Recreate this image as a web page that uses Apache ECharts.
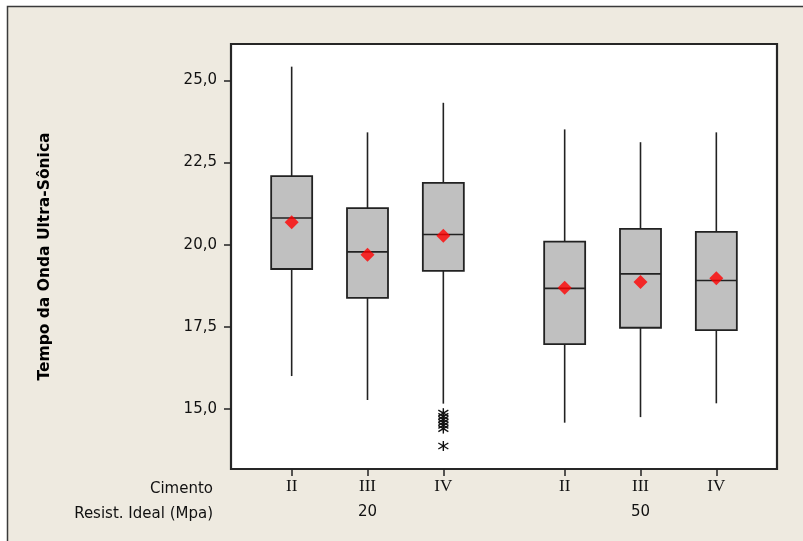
<!DOCTYPE html>
<html><head><meta charset="utf-8">
<script src="https://cdn.jsdelivr.net/npm/echarts@6/dist/echarts.min.js"></script>
<style>html,body{margin:0;padding:0;background:#fff}#c{width:803px;height:541px}</style>
</head><body><div id="c"></div>
<script>
// ---- data ----
const cimento = ['II', 'III', 'IV', 'II', 'III', 'IV'];
const resistGroups = ['20', '50'];
const whiskerLow  = [16.00, 15.27, 15.16, 14.58, 14.75, 15.17];
const q1          = [19.26, 18.38, 19.20, 16.97, 17.47, 17.40];
const median      = [20.81, 19.78, 20.31, 18.67, 19.11, 18.91];
const q3          = [22.09, 21.11, 21.88, 20.09, 20.48, 20.39];
const whiskerHigh = [25.42, 23.42, 24.32, 23.51, 23.12, 23.42];
const means       = [20.68, 19.69, 20.27, 18.69, 18.86, 18.98];
const outliersIV20 = [14.87, 14.77, 14.68, 14.59, 14.50, 14.40, 13.87];
const yTicks = [15, 17.5, 20, 22.5, 25];

// ---- layout helpers ----
const groupGap = 0.6;
const positions = cimento.map((c, i) => i + 1 + (i >= 3 ? groupGap : 0));
const groupCenters = [positions[1], positions[4]];
const idxOf = v => positions.findIndex(p => Math.abs(p - v) < 1e-6);

const boxData = positions.map((p, i) => [p, whiskerLow[i], q1[i], median[i], q3[i], whiskerHigh[i]]);
const meanData = positions.map((p, i) => [p, means[i]]);
const outData = outliersIV20.map(v => [positions[2], v]);

const baseFont = 'DejaVu Sans';
const chart = echarts.init(document.getElementById('c'));
chart.setOption({
  animation: false,
  backgroundColor: '#fff',
  graphic: [
    { type: 'rect', z: -100, silent: true,
      shape: { x: 7.5, y: 6.5, width: 810, height: 550 },
      style: { fill: '#EEEAE0', stroke: '#3a3a3a', lineWidth: 1.5 } },
    { type: 'text', x: 213, y: 489, silent: true,
      style: { text: 'Cimento', font: '15px "DejaVu Sans"', fill: '#111', textAlign: 'right', textVerticalAlign: 'middle' } },
    { type: 'text', x: 213, y: 514, silent: true,
      style: { text: 'Resist. Ideal (Mpa)', font: '15px "DejaVu Sans"', fill: '#111', textAlign: 'right', textVerticalAlign: 'middle' } }
  ],
  grid: { left: 231, top: 44, width: 546, height: 425, show: true,
    backgroundColor: '#fff', borderColor: '#262626', borderWidth: 2.2 },
  xAxis: [
    { type: 'value', min: 0.2, max: 7.4, position: 'bottom',
      axisLine: { show: false }, splitLine: { show: false },
      axisTick: { show: true, customValues: positions, length: 7, inside: false,
        lineStyle: { color: '#222', width: 1.5 } },
      axisLabel: { customValues: positions, margin: 9,
        formatter: v => cimento[idxOf(v)],
        fontFamily: 'Liberation Serif', fontSize: 17, color: '#111' } },
    { type: 'value', min: 0.2, max: 7.4, position: 'bottom', offset: 27,
      axisLine: { show: false }, splitLine: { show: false }, axisTick: { show: false },
      axisLabel: { customValues: groupCenters, margin: 9,
        formatter: v => resistGroups[groupCenters.findIndex(p => Math.abs(p - v) < 1e-6)],
        fontFamily: baseFont, fontSize: 15, color: '#111' } }
  ],
  yAxis: {
    type: 'value', min: 13.17, max: 26.11,
    name: 'Tempo da Onda Ultra-Sônica', nameLocation: 'middle', nameRotate: 90, nameGap: 178,
    nameTextStyle: { fontFamily: baseFont, fontWeight: 'bold', fontSize: 15.5, color: '#000' },
    axisLine: { show: false }, splitLine: { show: false },
    axisTick: { show: true, customValues: yTicks, length: 7, inside: false,
      lineStyle: { color: '#222', width: 1.5 } },
    axisLabel: { customValues: yTicks, margin: 14,
      formatter: v => v.toFixed(1).replace('.', ','),
      fontFamily: baseFont, fontSize: 15, color: '#111' }
  },
  series: [
    { type: 'custom', name: 'box', xAxisIndex: 0, data: boxData,
      encode: { x: 0, y: [1, 2, 3, 4, 5] },
      renderItem: function (params, api) {
        const x = api.value(0);
        const lo = api.coord([x, api.value(1)]);
        const a = api.coord([x, api.value(2)]);
        const m = api.coord([x, api.value(3)]);
        const b = api.coord([x, api.value(4)]);
        const hi = api.coord([x, api.value(5)]);
        const cx = a[0], hw = 20.5;
        const st = { stroke: '#222', lineWidth: 1.6 };
        return { type: 'group', children: [
          { type: 'line', shape: { x1: cx, y1: hi[1], x2: cx, y2: b[1] }, style: st },
          { type: 'line', shape: { x1: cx, y1: a[1], x2: cx, y2: lo[1] }, style: st },
          { type: 'rect', shape: { x: cx - hw, y: b[1], width: 2 * hw, height: a[1] - b[1] },
            style: { fill: '#C0C0C0', stroke: '#222', lineWidth: 1.8 } },
          { type: 'line', shape: { x1: cx - hw, y1: m[1], x2: cx + hw, y2: m[1] }, style: st }
        ] };
      } },
    { type: 'scatter', name: 'mean', data: meanData, symbol: 'diamond', symbolSize: 14,
      itemStyle: { color: '#FF0000' }, z: 5 },
    { type: 'custom', name: 'outliers', data: outData,
      encode: { x: 0, y: 1 },
      renderItem: function (params, api) {
        const p = api.coord([api.value(0), api.value(1)]);
        const st = { stroke: '#111', lineWidth: 1.4 };
        const r = 5;
        return { type: 'group', children: [
          { type: 'line', shape: { x1: p[0], y1: p[1] - r, x2: p[0], y2: p[1] + r }, style: st },
          { type: 'line', shape: { x1: p[0] - r, y1: p[1] - 3, x2: p[0] + r, y2: p[1] + 3 }, style: st },
          { type: 'line', shape: { x1: p[0] - r, y1: p[1] + 3, x2: p[0] + r, y2: p[1] - 3 }, style: st }
        ] };
      } }
  ]
});
</script>
</body></html>
